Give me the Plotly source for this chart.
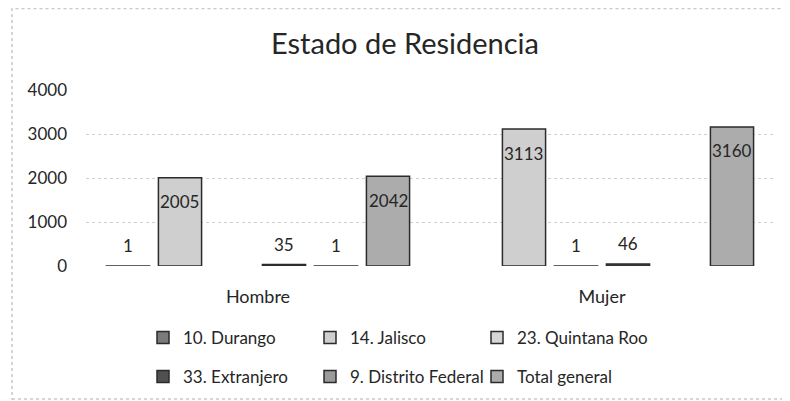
import plotly.graph_objects as go

categories = ["Hombre", "Mujer"]
series_names = ["10. Durango", "14. Jalisco", "23. Quintana Roo",
                "33. Extranjero", "9. Distrito Federal", "Total general"]
durango = [1, None]
jalisco = [2005, 3113]
quintana_roo = [None, 1]
extranjero = [35, 46]
distrito_federal = [1, None]
total_general = [2042, 3160]
y_ticks = [0, 1000, 2000, 3000, 4000]

series_values = [durango, jalisco, quintana_roo, extranjero, distrito_federal, total_general]
fills = ["#7a7a7a", "#cfcfcf", "#d6d6d6", "#505050", "#9a9a9a", "#acacac"]

FONT = "Lato, 'Open Sans', sans-serif"
TXT = "#262626"

# layout geometry (page has an 8px body margin, so the figure is 8px smaller)
W, H = 782, 393
ML, MR, MT, MB = 78, 16, 82, 135
BARGAP = 0.093
PLOT_W = W - ML - MR
PLOT_H = H - MT - MB
slot_px = PLOT_W / len(categories) * (1 - BARGAP) / len(series_names)
LEG_COL = 167          # legend column spacing, px
LEG_LEFT = 135         # legend left edge, px
LEG_ROWS = [330, 369]  # legend row centres, px
N_COLS = 3


def px_x(px):
    return (px - ML) / PLOT_W


def px_y(py):
    return (MT + PLOT_H - py) / PLOT_H


fig = go.Figure()
annotations = []
legends = {}
for i, (name, vals) in enumerate(zip(series_names, series_values)):
    leg_id = "legend" if i == 0 else f"legend{i + 1}"
    row, col = divmod(i, N_COLS)
    legends[leg_id] = dict(
        visible=True,
        orientation="h", xanchor="left", yanchor="middle",
        x=px_x(LEG_LEFT + col * LEG_COL), y=px_y(LEG_ROWS[row]),
        font=dict(family=FONT, size=17, color=TXT), itemwidth=30,
        bgcolor="rgba(0,0,0,0)")
    fig.add_trace(go.Bar(
        x=categories, y=vals, name=name, showlegend=True,
        marker=dict(color=fills[i], line=dict(color="#2b2b2b", width=1.5)),
        legend=leg_id,
        hovertemplate="%{x}<br>" + name + ": %{y}<extra></extra>",
    ))
    for cat, v in zip(categories, vals):
        if v is None:
            continue
        inside = v > 500
        annotations.append(dict(
            x=cat, y=v, xref="x", yref="y", text=str(v), showarrow=False,
            xshift=(i - (len(series_names) - 1) / 2) * slot_px,
            yshift=-24 if inside else 20,
            font=dict(family=FONT, size=17, color=TXT),
        ))

fig.update_layout(
    width=W, height=H,
    showlegend=True,
    margin=dict(l=ML, r=MR, t=MT, b=MB, autoexpand=False),
    paper_bgcolor="white", plot_bgcolor="white",
    barmode="group", bargap=BARGAP, bargroupgap=0.17,
    title=dict(text="Estado de Residencia", x=397 / W, xanchor="center",
               y=1 - 36 / H, yanchor="middle",
               font=dict(family=FONT, size=29, color=TXT)),
    font=dict(family=FONT, color=TXT),
    xaxis=dict(showgrid=False, showline=False, zeroline=False,
               tickfont=dict(family=FONT, size=18, color=TXT),
               ticks="", ticklabelstandoff=18),
    yaxis=dict(range=[0, 4000], tickvals=y_ticks, showgrid=True,
               gridcolor="#d0d0d0", griddash="dot", gridwidth=1,
               zeroline=False, showline=False,
               tickfont=dict(family=FONT, size=17, color=TXT),
               ticklabelstandoff=18),
    annotations=annotations,
    shapes=[dict(type="rect", xref="paper", yref="paper",
                 x0=px_x(4), x1=px_x(781),
                 y0=px_y(391), y1=px_y(0.5),
                 line=dict(color="#c8c8c8", width=1.5, dash="dot"),
                 layer="below")],
    **legends,
)

fig.write_html("out.html")
